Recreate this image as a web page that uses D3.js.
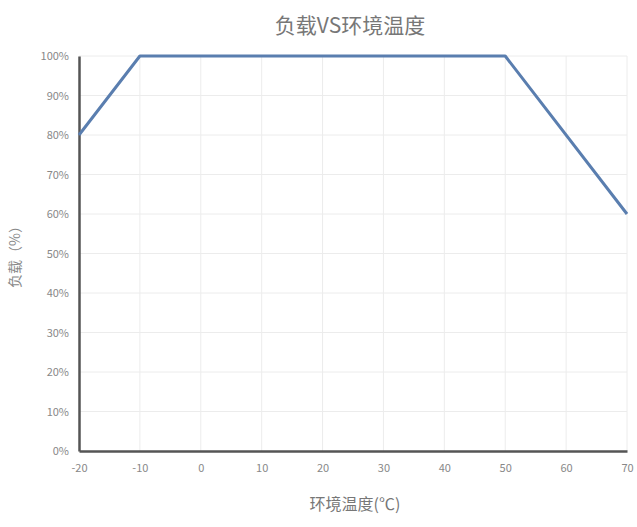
<!DOCTYPE html>
<html>
<head>
<meta charset="utf-8">
<script src="https://cdn.jsdelivr.net/npm/d3@7"></script>
<style>
  body { margin: 0; background: #fff; }
  text { font-family: "Noto Sans CJK SC", "DejaVu Sans", sans-serif; }
</style>
</head>
<body>
<div id="chart"></div>
<script>
// data
const temps = [-20, -10, 50, 70];
const loads = [80, 100, 100, 60];
const xTicks = [-20, -10, 0, 10, 20, 30, 40, 50, 60, 70];
const yTicks = [0, 10, 20, 30, 40, 50, 60, 70, 80, 90, 100];

const width = 637, height = 527;
const margin = {top: 56, right: 10, bottom: 76, left: 79};

const svg = d3.select("#chart").append("svg")
    .attr("width", width)
    .attr("height", height);

const x = d3.scaleLinear().domain([-20, 70]).range([margin.left, width - margin.right]);
const y = d3.scaleLinear().domain([0, 100]).range([height - margin.bottom, margin.top]);

// grid
svg.append("g").selectAll("line.h")
    .data(yTicks.slice(1))
    .join("line")
    .attr("x1", x(-20)).attr("x2", x(70))
    .attr("y1", d => y(d)).attr("y2", d => y(d))
    .attr("stroke", "#ececec").attr("stroke-width", 1);
svg.append("g").selectAll("line.v")
    .data(xTicks.slice(1))
    .join("line")
    .attr("x1", d => x(d)).attr("x2", d => x(d))
    .attr("y1", y(0)).attr("y2", y(100))
    .attr("stroke", "#ececec").attr("stroke-width", 1);

// axes (plain hyphen minus like the original)
const xAxis = svg.append("g")
    .attr("transform", `translate(0,${y(0)})`)
    .call(d3.axisBottom(x).tickValues(xTicks).tickSize(0).tickPadding(13).tickFormat(d => String(d)));
const yAxis = svg.append("g")
    .attr("transform", `translate(${x(-20)},0)`)
    .call(d3.axisLeft(y).tickValues(yTicks).tickSize(0).tickPadding(10).tickFormat(d => d + "%"));
[xAxis, yAxis].forEach(a => {
    a.select(".domain").attr("stroke", "#555").attr("stroke-width", 2.5);
    a.selectAll("text").attr("fill", "#888").attr("font-size", 11);
});

// line
const pts = temps.map((t, i) => [t, loads[i]]);
svg.append("path")
    .datum(pts)
    .attr("fill", "none")
    .attr("stroke", "#5a7eaf")
    .attr("stroke-width", 3)
    .attr("stroke-linejoin", "round")
    .attr("d", d3.line().x(d => x(d[0])).y(d => y(d[1])));

// titles
svg.append("text")
    .attr("x", 350).attr("y", 33)
    .attr("text-anchor", "middle")
    .attr("font-size", 21)
    .attr("fill", "#777")
    .text("负载VS环境温度");
svg.append("text")
    .attr("x", 355).attr("y", 510)
    .attr("text-anchor", "middle")
    .attr("font-size", 16)
    .attr("fill", "#777")
    .text("环境温度(℃)");
svg.append("text")
    .attr("transform", `translate(20,${(y(0) + y(100)) / 2}) rotate(-90)`)
    .attr("text-anchor", "middle")
    .attr("font-size", 14)
    .attr("fill", "#888")
    .text("负载（%）");
</script>
</body>
</html>
